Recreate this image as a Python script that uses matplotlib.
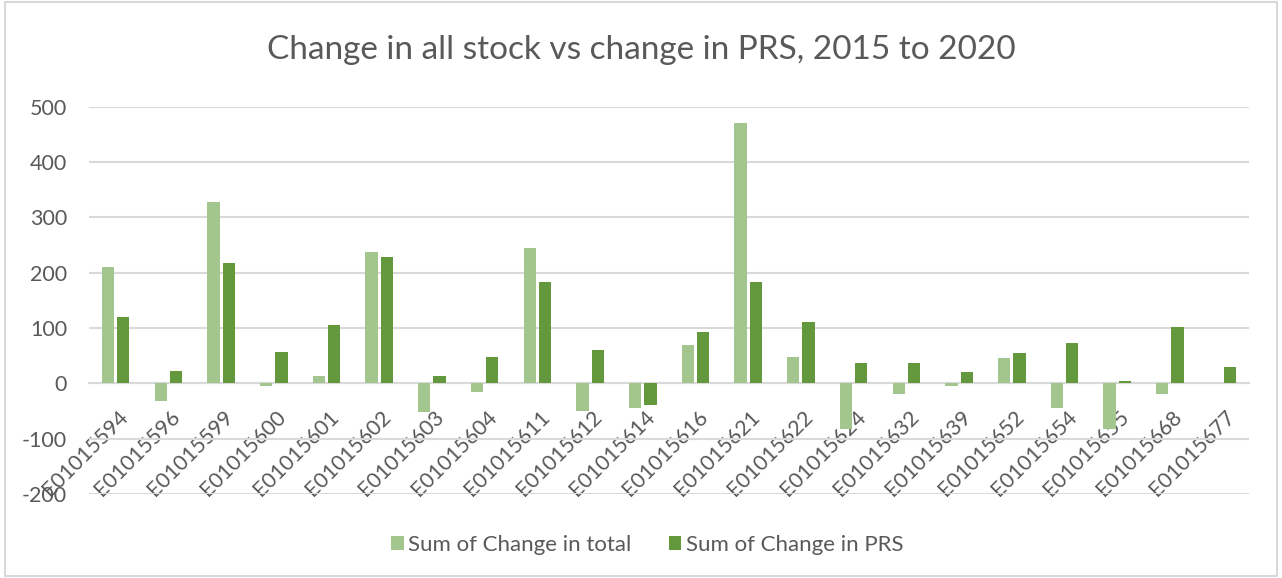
import matplotlib
matplotlib.use("Agg")
import matplotlib.pyplot as plt
import numpy as np
from matplotlib.patches import Rectangle

categories = ["E01015594", "E01015596", "E01015599", "E01015600", "E01015601",
              "E01015602", "E01015603", "E01015604", "E01015611", "E01015612",
              "E01015614", "E01015616", "E01015621", "E01015622", "E01015624",
              "E01015632", "E01015639", "E01015652", "E01015654", "E01015655",
              "E01015668", "E01015677"]
change_total = [210, -32, 328, -4, 13, 237, -52, -16, 245, -50,
                -44, 69, 470, 48, -82, -20, -4, 46, -44, -82, -19, 0]
change_prs = [120, 22, 217, 57, 106, 229, 13, 48, 183, 60,
              -39, 92, 183, 111, 36, 36, 20, 55, 73, 4, 101, 30]
y_ticks = [-200, -100, 0, 100, 200, 300, 400, 500]

light = "#A3C68F"
dark = "#63993C"
grid = "#D9D9D9"
txt = "#595959"

plt.rcParams['font.family'] = ['Lato', 'DejaVu Sans']

fig = plt.figure(figsize=(12.82, 5.78), dpi=100)
ax = fig.add_axes([89.3 / 1282, 1 - 494 / 578, (1249 - 89.3) / 1282, (494 - 106.7) / 578])

n = len(categories)
x = np.arange(n)
w = 0.235
off = 0.145
ax.bar(x - off, change_total, width=w, color=light, label="Sum of Change in total", zorder=3)
ax.bar(x + off, change_prs, width=w, color=dark, label="Sum of Change in PRS", zorder=3)

ax.set_xlim(-0.5, n - 0.5)
ax.set_ylim(-200, 500)
ax.set_yticks(y_ticks)
ax.set_yticklabels([str(v) for v in y_ticks], fontsize=15.5, color=txt)
ax.yaxis.grid(True, color=grid, linewidth=1.5, zorder=0)
ax.tick_params(axis='y', length=0, pad=16)

for s in ['top', 'right', 'left']:
    ax.spines[s].set_visible(False)
ax.spines['bottom'].set_position(('data', 0))
ax.spines['bottom'].set_color(grid)
ax.spines['bottom'].set_linewidth(1.5)
ax.spines['bottom'].set_zorder(2)

# label anchors slightly right of the category centre, as in the reference
ax.set_xticks(x + 0.17)
ax.set_xticklabels(categories, rotation=45, ha='right', va='center',
                   rotation_mode='anchor', fontsize=15.5, color=txt)
ax.tick_params(axis='x', length=0, pad=22)
for lbl in ax.get_xticklabels():
    lbl.set_zorder(5)

fig.text(0.5, 1 - 50 / 578, "Change in all stock vs change in PRS, 2015 to 2020",
         ha='center', va='center', fontsize=24, color=txt)

fig.legend(loc='center', bbox_to_anchor=(0.505, 1 - 545 / 578), ncol=2, frameon=False,
           fontsize=16, labelcolor=txt, handlelength=0.55, handleheight=0.55,
           handletextpad=0.2, columnspacing=1.7)

fig.patches.append(Rectangle((5 / 1282, 2 / 578), 1 - 10 / 1282, 1 - 4 / 578,
                             transform=fig.transFigure, fill=False,
                             edgecolor=grid, linewidth=1.5))

fig.savefig("out.png", dpi=100)
